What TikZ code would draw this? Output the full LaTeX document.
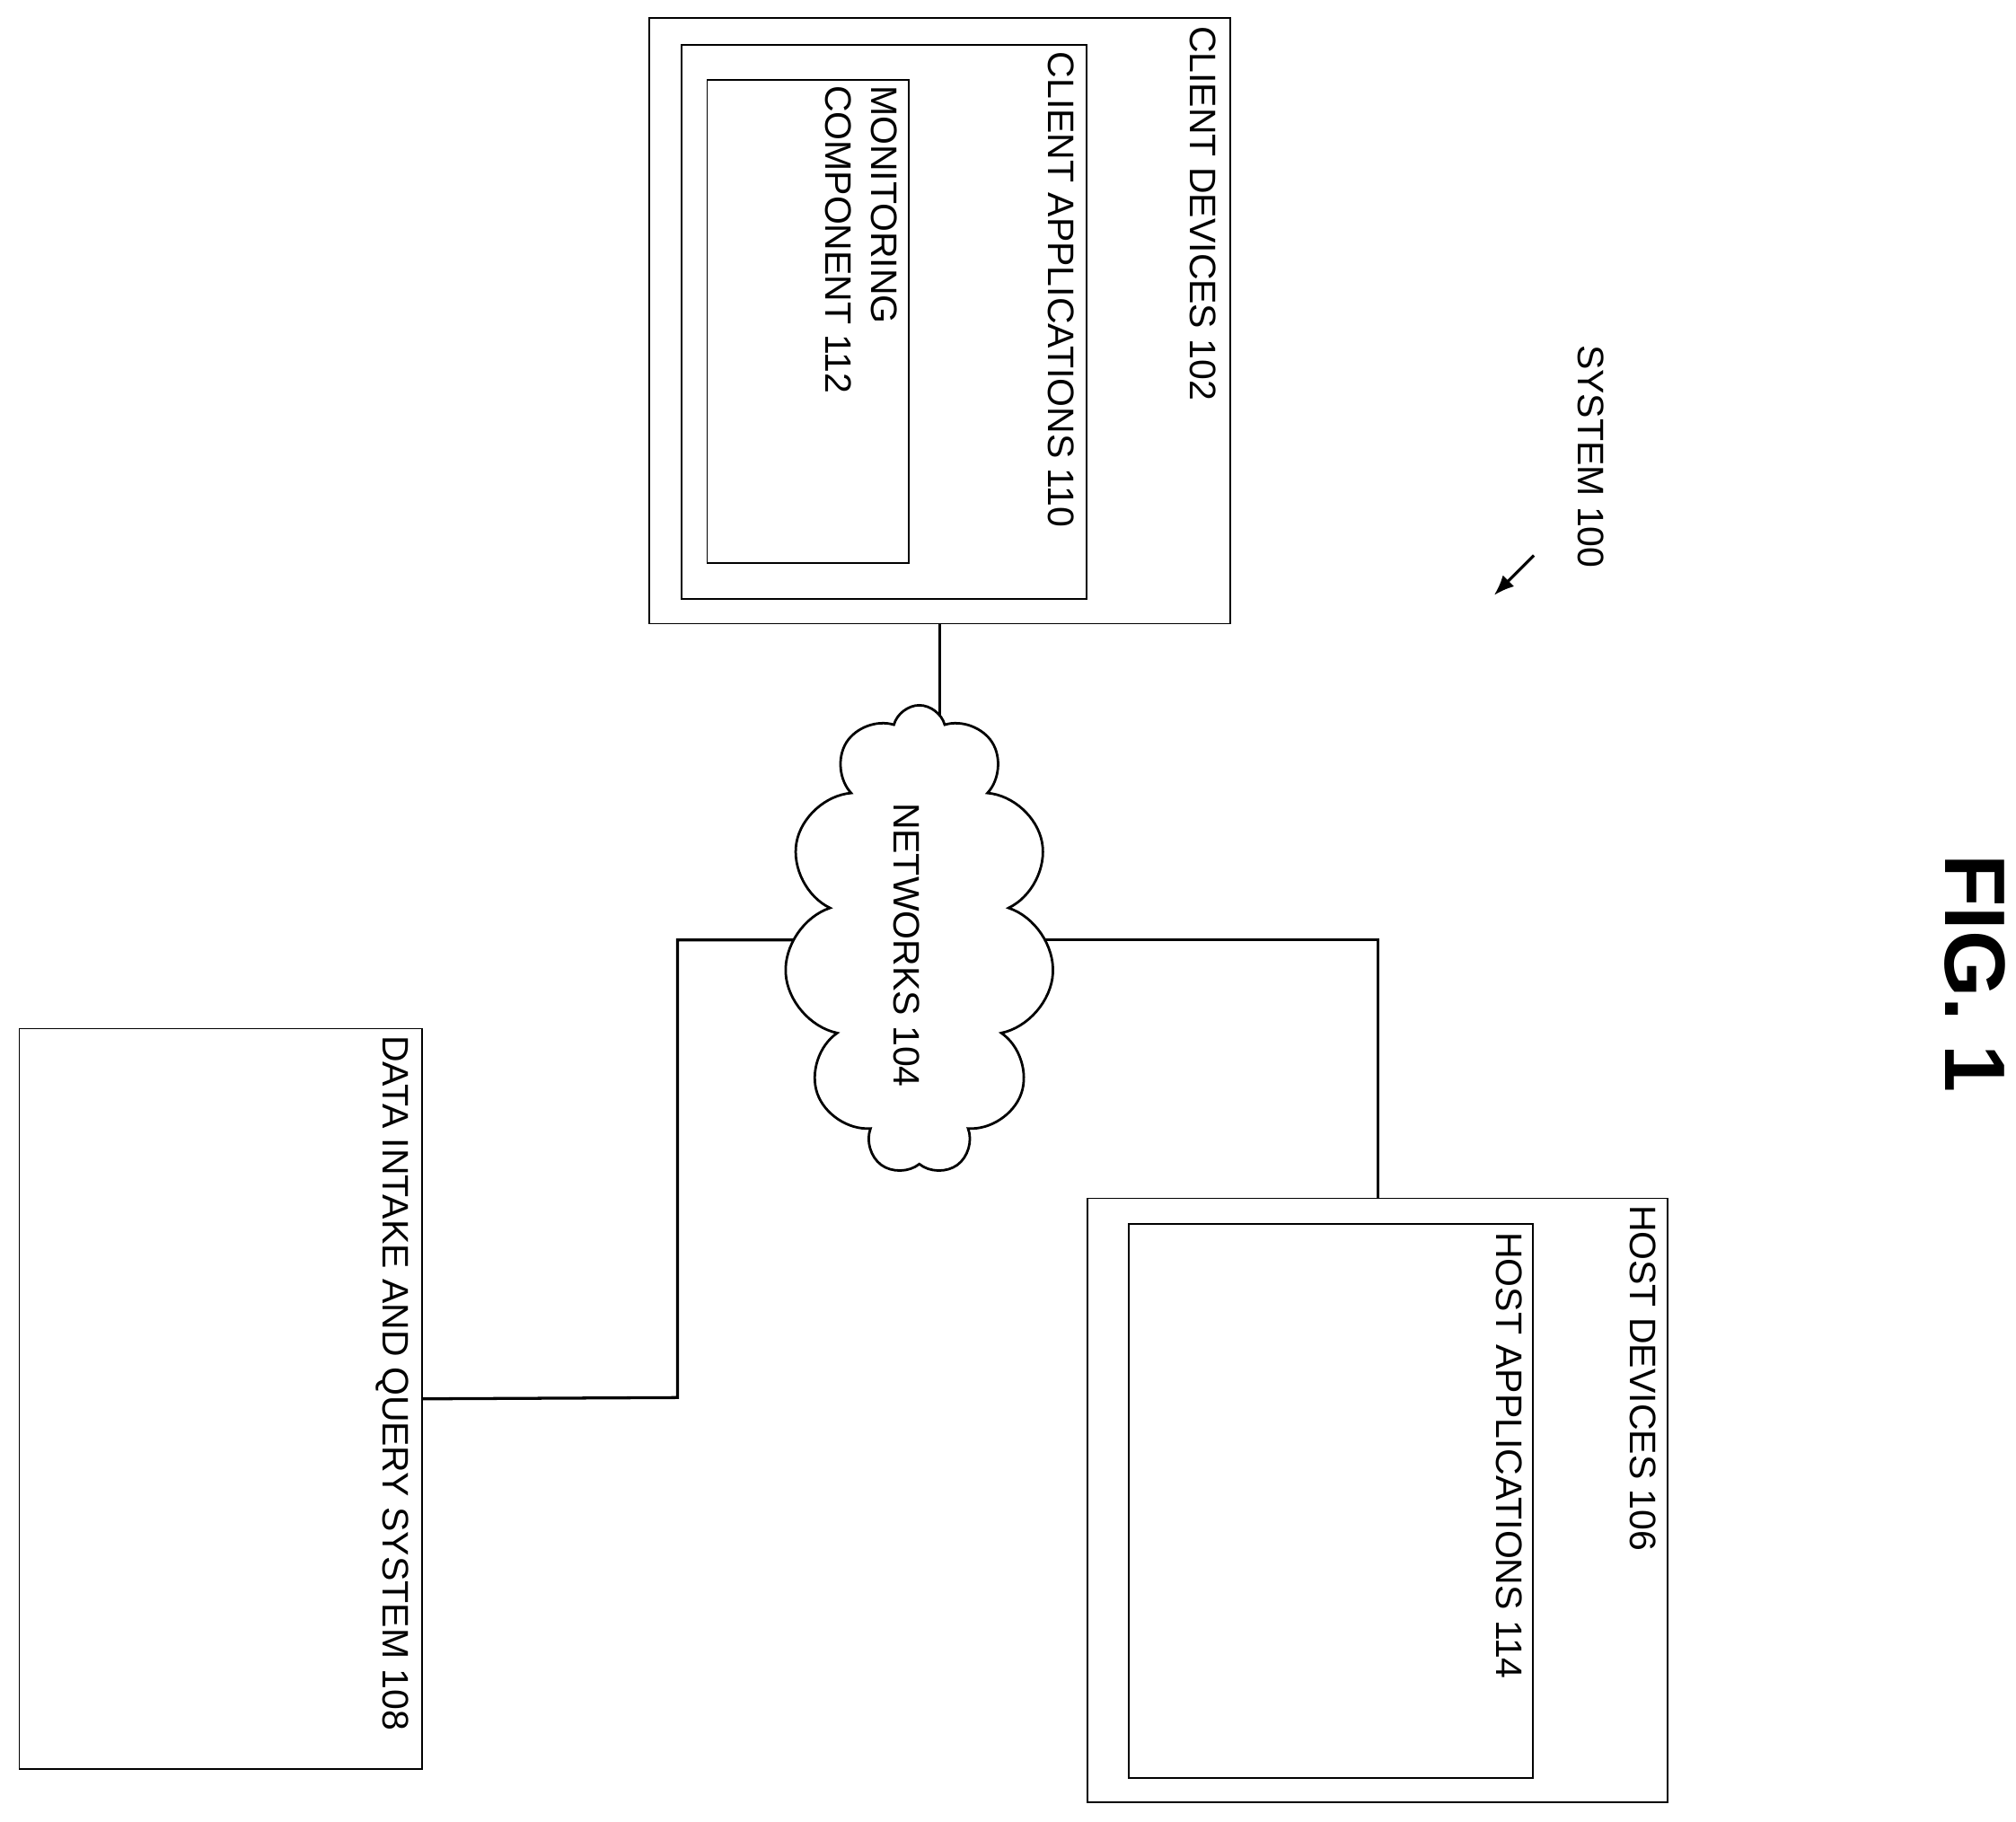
\documentclass[tikz,border=0pt]{standalone}
\usepackage{fontspec}
\setmainfont{Liberation Sans}
\usetikzlibrary{fit,shapes.symbols,backgrounds,arrows.meta}
\begin{document}
\begin{tikzpicture}[x=0.02cm,y=-0.02cm,
  box/.style={draw,line width=0.7pt,inner sep=0pt},
  lbl/.style={rotate=-90,anchor=north west,inner sep=0pt,font=\fontsize{16.3}{20}\selectfont,align=left},
  wire/.style={line width=1.3pt}]
\useasboundingbox (0,0) rectangle (1568,1417);
\node[box,fit={(505,14)(957,485)}] (cd) {};
\node[box,fit={(530,35)(845,466)}] (ca) {};
\node[box,fit={(550,62)(707,438)}] (mc) {};
\node[box,fit={(846,932)(1297,1402)}] (hd) {};
\node[box,fit={(878,952)(1192,1383)}] (ha) {};
\node[box,fit={(15,800)(328,1376)}] (dq) {};
\node[lbl] (tcd) at (946,20) {CLIENT DEVICES 102};
\node[lbl] (tca) at (836,40) {CLIENT APPLICATIONS 110};
\node[lbl] (tmc) at (698,66) {MONITORING\\COMPONENT 112};
\node[lbl] (thd) at (1288,937) {HOST DEVICES 106};
\node[lbl] (tha) at (1184,958) {HOST APPLICATIONS 114};
\node[lbl] (tdq) at (318,805) {DATA INTAKE AND QUERY SYSTEM 108};
\node[lbl] (tsys) at (1248,268) {SYSTEM 100};
\node[rotate=-90,anchor=north west,inner sep=0pt,font=\fontsize{38}{42}\bfseries] (fig) at (1560,664) {FIG. 1};
\coordinate (a1) at (1193,432);
\coordinate (a2) at (1162,463);
\draw[line width=1.3pt,-{Latex[length=9pt,width=7pt]}] (a1) -- (a2);
\node[cloud,cloud puffs=11,aspect=0.55,draw,fill=white,line width=1.1pt,minimum width=4.2cm,minimum height=7.3cm,inner sep=0pt] (net) at (715,731) {};
\node[lbl,anchor=center] (tnet) at (705,735) {NETWORKS 104};
\coordinate (j) at (527,1087);
\begin{scope}[on background layer]
\draw[wire] (cd.south) -- (cd.south |- net.center);
\draw[wire] (net.center) -| (j) -- (dq.east);
\draw[wire] (net.center) -| (hd.north);
\end{scope}
\end{tikzpicture}
\end{document}
